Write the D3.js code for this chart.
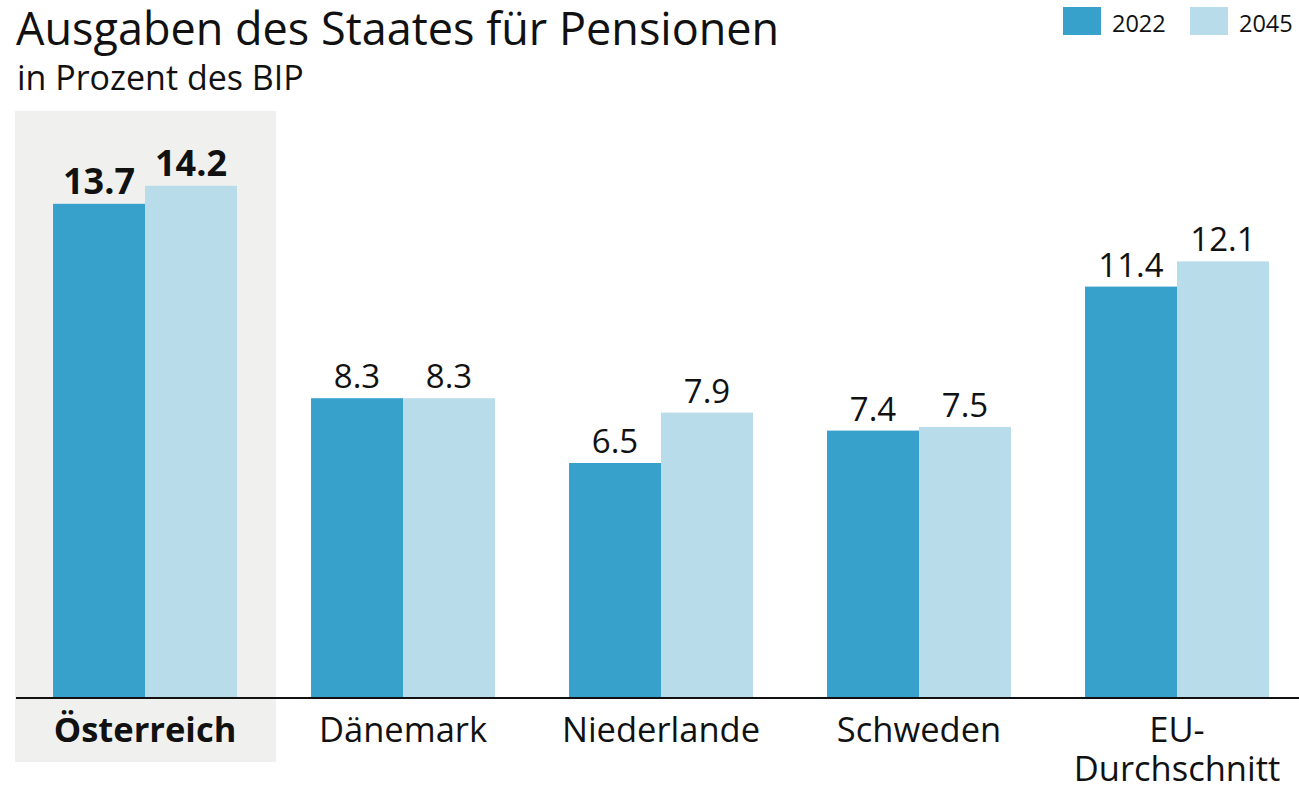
<!DOCTYPE html>
<html>
<head>
<meta charset="utf-8">
<script src="https://cdn.jsdelivr.net/npm/d3@7"></script>
<style>
  body { margin: 0; background: #fff; }
  svg text { font-family: "Open Sans", "Noto Sans", sans-serif; fill: #111; }
</style>
</head>
<body>
<div id="chart"></div>
<script>
// chart data
const countries = ["Österreich", "Dänemark", "Niederlande", "Schweden", "EU-Durchschnitt"];
const years = ["2022", "2045"];
const values2022 = [13.7, 8.3, 6.5, 7.4, 11.4];
const values2045 = [14.2, 8.3, 7.9, 7.5, 12.1];
const highlighted = "Österreich";

const width = 1299, height = 785;
const baseline = 697;

const colors = d3.scaleOrdinal().domain(years).range(["#38a1cb", "#b8dcea"]);

const data = countries.map((c, i) => ({
    country: c,
    vals: [
        { year: years[0], value: values2022[i] },
        { year: years[1], value: values2045[i] }
    ]
}));

const svg = d3.select("#chart")
    .append("svg")
    .attr("width", width)
    .attr("height", height);

// scales
const x0 = d3.scaleBand()
    .domain(countries)
    .range([16, 1306])
    .paddingInner(0.287)
    .paddingOuter(0.1435);

const x1 = d3.scaleBand()
    .domain(years)
    .range([0, x0.bandwidth()]);

const y = d3.scaleLinear()
    .domain([0, baseline / 36])
    .range([baseline, 0]);

// highlight background for Austria
const step = x0.step();
svg.append("rect")
    .attr("x", x0(highlighted) - (step - x0.bandwidth()) / 2 - 1)
    .attr("y", 111)
    .attr("width", step + 3)
    .attr("height", 651)
    .attr("fill", "#f0f1ef");

// bars
const groups = svg.selectAll(".group")
    .data(data)
    .join("g")
    .attr("class", "group")
    .attr("transform", d => `translate(${x0(d.country)},0)`);

groups.selectAll("rect")
    .data(d => d.vals)
    .join("rect")
    .attr("x", d => x1(d.year))
    .attr("y", d => y(d.value))
    .attr("width", x1.bandwidth())
    .attr("height", d => baseline - y(d.value))
    .attr("fill", d => colors(d.year));

// value labels
groups.each(function(g) {
    const bold = g.country === highlighted;
    d3.select(this).selectAll("text.val")
        .data(g.vals)
        .join("text")
        .attr("class", "val")
        .attr("x", d => x1(d.year) + x1.bandwidth() / 2)
        .attr("y", d => y(d.value) - 10)
        .attr("text-anchor", "middle")
        .style("font-size", bold ? "36px" : "33px")
        .style("font-weight", bold ? "700" : "400")
        .text(d => d.value.toFixed(1));
});

// baseline
svg.append("line")
    .attr("x1", 16)
    .attr("x2", width)
    .attr("y1", baseline + 1)
    .attr("y2", baseline + 1)
    .attr("stroke", "#111")
    .attr("stroke-width", 2);

// category labels (EU label wraps after the hyphen)
const catLines = [];
countries.forEach(c => {
    const parts = c.includes("-") ? [c.split("-")[0] + "-", c.split("-")[1]] : [c];
    parts.forEach((p, i) => catLines.push({ country: c, text: p, line: i }));
});

svg.selectAll(".cat")
    .data(catLines)
    .join("text")
    .attr("class", "cat")
    .attr("x", d => x0(d.country) + x0.bandwidth() / 2)
    .attr("y", d => 742 + d.line * 39)
    .attr("text-anchor", "middle")
    .style("font-size", "34.5px")
    .style("font-weight", d => d.country === highlighted ? "700" : "400")
    .text(d => d.text);

// title
svg.append("text")
    .attr("x", 16)
    .attr("y", 45)
    .style("font-size", "45px")
    .text("Ausgaben des Staates für Pensionen");

svg.append("text")
    .attr("x", 17)
    .attr("y", 90)
    .style("font-size", "34px")
    .text("in Prozent des BIP");

// legend
const legendX = [1063, 1190];
const legend = svg.selectAll(".legend")
    .data(years)
    .join("g")
    .attr("class", "legend")
    .attr("transform", (d, i) => `translate(${legendX[i]},7)`);

legend.append("rect")
    .attr("width", 38)
    .attr("height", 28)
    .attr("fill", d => colors(d));

legend.append("text")
    .attr("x", 49)
    .attr("y", 25)
    .style("font-size", "23.5px")
    .text(d => d);
</script>
</body>
</html>
